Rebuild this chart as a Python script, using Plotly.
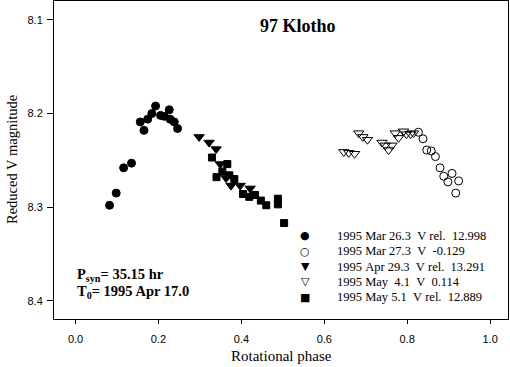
import plotly.graph_objects as go

# phase / reduced V magnitude
mar26_phase = [0.082, 0.098, 0.116, 0.135, 0.156, 0.165, 0.174, 0.184, 0.193,
               0.205, 0.214, 0.226, 0.228, 0.238, 0.246]
mar26_mag = [8.298, 8.285, 8.258, 8.253, 8.209, 8.218, 8.206, 8.200, 8.192,
             8.202, 8.203, 8.196, 8.206, 8.209, 8.216]

mar27_phase = [0.827, 0.838, 0.847, 0.858, 0.868, 0.879, 0.888, 0.898, 0.908,
               0.924, 0.917]
mar27_mag = [8.220, 8.227, 8.239, 8.240, 8.246, 8.258, 8.267, 8.273, 8.264,
             8.272, 8.285]

apr29_phase = [0.298, 0.322, 0.339, 0.349, 0.363, 0.375, 0.397, 0.421]
apr29_mag = [8.225, 8.231, 8.238, 8.254, 8.269, 8.277, 8.277, 8.280]

may4_phase = [0.647, 0.659, 0.673, 0.683, 0.693, 0.704, 0.739, 0.747, 0.755,
              0.763, 0.771, 0.779, 0.791, 0.798, 0.808, 0.815]
may4_mag = [8.241, 8.242, 8.243, 8.221, 8.225, 8.228, 8.231, 8.234, 8.239,
            8.234, 8.221, 8.226, 8.219, 8.222, 8.222, 8.221]

may5_phase = [0.329, 0.366, 0.340, 0.354, 0.371, 0.383, 0.404, 0.419, 0.433,
              0.447, 0.460, 0.488, 0.488, 0.503]
may5_mag = [8.247, 8.254, 8.268, 8.262, 8.266, 8.270, 8.286, 8.289, 8.287,
            8.293, 8.298, 8.291, 8.297, 8.317]

legend_labels = [
    "1995 Mar 26.3  V rel.  12.998",
    "1995 Mar 27.3  V  -0.129",
    "1995 Apr 29.3  V rel.  13.291",
    "1995 May  4.1  V  0.114",
    "1995 May 5.1  V rel.  12.889",
]
legend_glyphs = ["\u25cf", "\u25cb", "\u25bc", "\u25bd", "\u25a0"]

series = [
    (mar26_phase, mar26_mag, "circle", 8),
    (mar27_phase, mar27_mag, "circle-open", 8),
    (apr29_phase, apr29_mag, "triangle-down", 9),
    (may4_phase, may4_mag, "triangle-down-open", 9),
    (may5_phase, may5_mag, "square", 7),
]

fig = go.Figure()
for (xs, ys, sym, sz), name in zip(series, legend_labels):
    fig.add_trace(go.Scatter(
        x=xs, y=ys, mode="markers", name=name,
        marker=dict(symbol=sym, size=sz, color="black",
                    line=dict(color="black", width=1)),
    ))

serif = "Liberation Serif"
H = 318  # plot height in px, used to place the paper-coord texts

def py(pix):
    return 1 - (pix - 1) / H

annots = [
    dict(x=0.537, y=py(26), text="<b>97 Klotho</b>", font=dict(size=18)),
    dict(x=0.046, y=py(275), xanchor="left", font=dict(size=14.5),
         text="<b>P<sub>syn</sub>= 35.15 hr</b>"),
    dict(x=0.046, y=py(292), xanchor="left", font=dict(size=14.5),
         text="<b>T<sub>0</sub>= 1995 Apr 17.0</b>"),
    dict(x=0.5, y=py(356), text="Rotational phase", font=dict(size=15)),
    dict(x=(12 - 54) / 454, y=0.5, text="Reduced V magnitude", textangle=-90,
         font=dict(size=14.5)),
]
for i, (g, lab) in enumerate(zip(legend_glyphs, legend_labels)):
    ypos = py(236 + 15.3 * i)
    annots.append(dict(x=(305 - 54) / 454, y=ypos, text=g,
                       font=dict(family="DejaVu Sans", size=11)))
    annots.append(dict(x=(335 - 54) / 454, y=ypos, xanchor="left",
                       font=dict(size=12.5), text=lab.replace(" ", "\u00a0")))
for a in annots:
    a.update(xref="paper", yref="paper", showarrow=False, yanchor="middle")
    a.setdefault("xanchor", "center")
    a["font"].setdefault("family", serif)
    a["font"]["color"] = "black"

axis_style = dict(showline=True, linecolor="black", linewidth=1, mirror=True,
                  ticks="outside", tickcolor="black", showgrid=False,
                  zeroline=False, automargin=False,
                  tickfont=dict(family="Liberation Sans", size=11, color="black"))

fig.update_layout(
    width=510, height=367,
    margin=dict(l=54, r=2, t=1, b=48),
    plot_bgcolor="white", paper_bgcolor="white",
    showlegend=False,
    annotations=annots,
    xaxis=dict(range=[-0.052, 1.043], tickvals=[0, 0.2, 0.4, 0.6, 0.8, 1.0],
               ticktext=["0.0", "0.2", "0.4", "0.6", "0.8", "1.0"],
               ticklen=4, ticklabelstandoff=6, **axis_style),
    yaxis=dict(range=[8.4195, 8.0798], tickvals=[8.1, 8.2, 8.3, 8.4],
               ticktext=["8.1", "8.2", "8.3", "8.4"],
               ticklen=6, ticklabelstandoff=2, **axis_style),
)

# page body has an 8px default margin; drop it so the figure sits at 0,0
fig.write_html("out.html", config={"displayModeBar": False},
               post_script="document.body.style.margin='0';")
